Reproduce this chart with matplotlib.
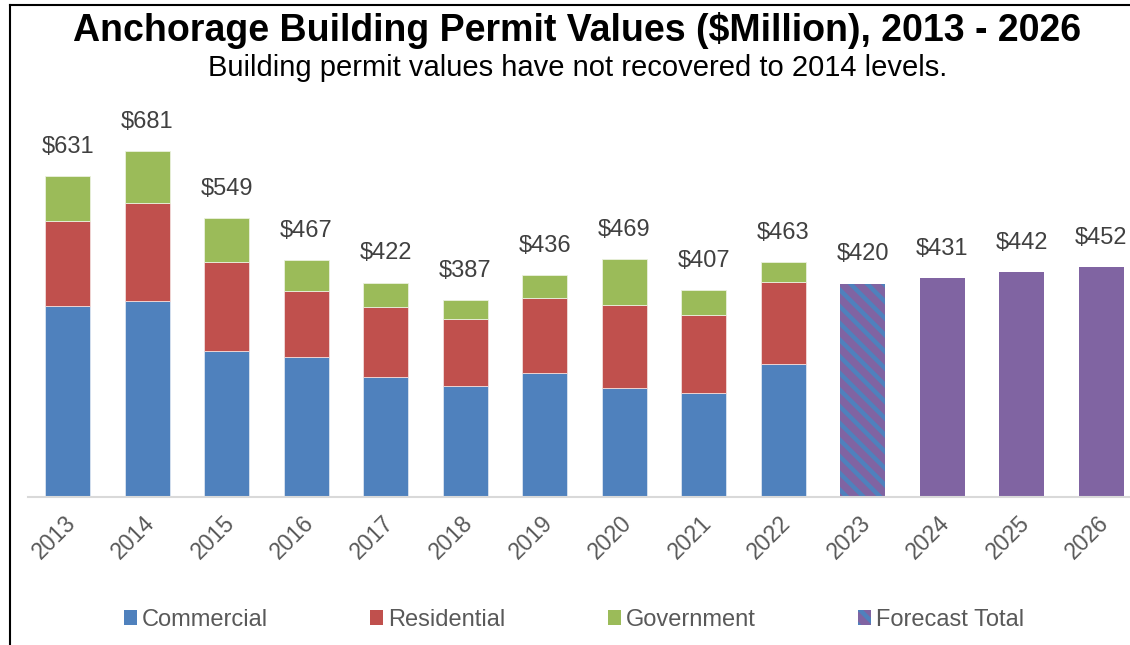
import numpy as np
import matplotlib
matplotlib.use('Agg')
import matplotlib.pyplot as plt
import matplotlib.transforms as mtransforms
from matplotlib.patches import Patch
from matplotlib.lines import Line2D

plt.rcParams['font.family'] = ['Liberation Sans', 'DejaVu Sans']
plt.rcParams['hatch.linewidth'] = 3.2

# Permit values in $ millions
years = ['2013', '2014', '2015', '2016', '2017', '2018', '2019',
         '2020', '2021', '2022', '2023', '2024', '2025', '2026']
commercial = [376, 386, 287, 276, 236, 218, 244, 215, 205, 262]
residential = [167, 193, 175, 130, 138, 132, 148, 163, 154, 161]
government = [88, 102, 87, 61, 48, 37, 44, 91, 48, 40]
totals = [631, 681, 549, 467, 422, 387, 436, 469, 407, 463, 420, 431, 442, 452]
forecast = [420, 431, 442, 452]

blue = '#4F81BD'
red = '#C0504D'
green = '#9BBB59'
purple = '#8064A2'
grey = '#595959'

fig = plt.figure(figsize=(11.3, 6.45), dpi=100)
ax = fig.add_axes([28 / 1130, 148 / 645, 1113 / 1130, 355.7 / 645])

x = np.arange(len(years))
xa = x[:len(commercial)]
xf = x[len(commercial):]
w = 0.57

com = np.array(commercial)
res = np.array(residential)
gov = np.array(government)
ax.bar(xa, com, w, color=blue, edgecolor='#dbe5f1', linewidth=0.6)
ax.bar(xa, res, w, bottom=com, color=red, edgecolor='#f2dcdb', linewidth=0.6)
ax.bar(xa, gov, w, bottom=com + res, color=green, edgecolor='#ebf1de', linewidth=0.6)

# first forecast year is striped, the rest plain
ax.bar(xf[:1], forecast[:1], w, color=purple, edgecolor=blue, hatch='\\\\', linewidth=0)
ax.bar(xf[1:], forecast[1:], w, color=purple, linewidth=0)

for xi, t in zip(x, totals):
    ax.annotate('$' + str(t), (xi, t), xytext=(0, 21), textcoords='offset points',
                ha='center', va='center', fontsize=17, color='#404040',
                annotation_clip=False)

ax.set_xlim(-0.5, 13.5)
ax.set_ylim(0, 700)
ax.set_yticks([])
for s in ['top', 'right', 'left']:
    ax.spines[s].set_visible(False)
ax.spines['bottom'].set_color('#d9d9d9')
ax.spines['bottom'].set_linewidth(1.5)
ax.set_xticks(x)
ax.set_xticklabels(years, rotation=45, ha='right', rotation_mode='anchor',
                   fontsize=16.5, color=grey)
ax.tick_params(axis='x', length=0, pad=9)
shift = mtransforms.ScaledTranslation(-4 / 100, -2 / 100, fig.dpi_scale_trans)
for lbl in ax.get_xticklabels():
    lbl.set_transform(lbl.get_transform() + shift)

fig.text(0.511, 0.953, 'Anchorage Building Permit Values ($Million), 2013 - 2026',
         ha='center', va='center', fontsize=27, fontweight='bold', color='black')
fig.text(0.511, 0.894, 'Building permit values have not recovered to 2014 levels.',
         ha='center', va='center', fontsize=21, color='black')

handles = [Patch(facecolor=blue), Patch(facecolor=red), Patch(facecolor=green),
           Patch(facecolor=purple, edgecolor=blue, hatch='\\\\', linewidth=0)]
labels = ['Commercial', 'Residential', 'Government', 'Forecast Total']
leg = fig.legend(handles, labels, loc='center', bbox_to_anchor=(0.508, 0.039),
                 ncol=4, frameon=False, fontsize=17, handlelength=0.55,
                 handleheight=0.55, handletextpad=0.2, columnspacing=4.35)
for t in leg.get_texts():
    t.set_color(grey)

# border of the original frame, only top and left edges visible
fig.add_artist(Line2D([10 / 1130, 10 / 1130], [0, 1 - 5 / 645], color='black',
                      linewidth=1.5, transform=fig.transFigure))
fig.add_artist(Line2D([10 / 1130, 1], [1 - 5 / 645, 1 - 5 / 645], color='black',
                      linewidth=1.5, transform=fig.transFigure))

fig.savefig('out.png', dpi=100)
